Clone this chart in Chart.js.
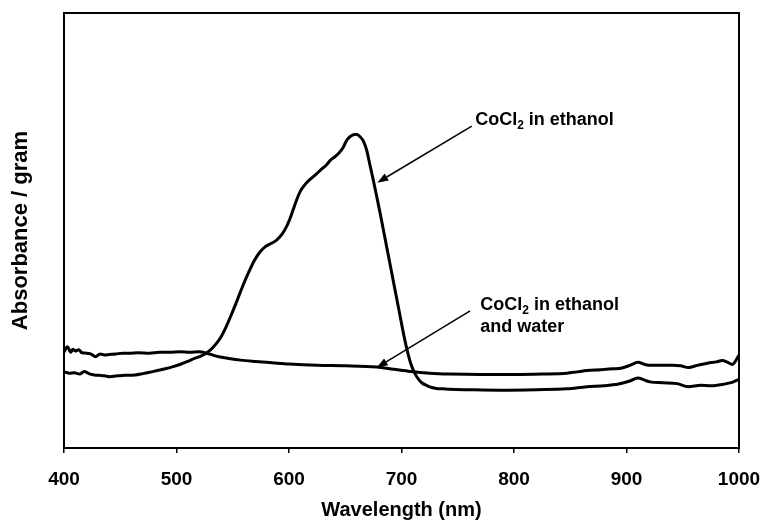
<!DOCTYPE html>
<html>
<head>
<meta charset="utf-8">
<script src="https://cdn.jsdelivr.net/npm/chart.js@4.4.1/dist/chart.umd.min.js"></script>
<style>
  html, body { margin: 0; padding: 0; background: #fff; }
  canvas { display: block; }
</style>
</head>
<body>
<canvas id="c" width="763" height="525"></canvas>
<script>
// Absorption spectra of cobalt chloride (arbitrary absorbance units per gram)
const ethanolNm = [400, 405, 409, 414, 418, 422, 427, 432, 436, 441, 447, 454, 463, 470, 476, 483, 490, 497, 503, 510,
  516, 522, 527, 533, 539, 544, 549, 554, 559, 564, 569, 574, 579, 584, 589, 594, 598, 601, 604, 607, 610,
  614, 619, 624, 628, 633, 637, 641, 645, 648, 651, 654, 657, 660, 663, 666, 669, 672, 675, 678,
  681, 684, 687, 690, 693, 696, 699, 702, 705, 708, 711, 714, 718, 723, 727, 731,
  737, 743, 760, 788, 820, 847, 865, 880, 893, 903, 910, 916, 921, 932, 945, 955, 966, 975, 985, 995, 1000];
const ethanolAbs = [17.5, 17.2, 17.3, 17.0, 17.6, 17.1, 16.8, 16.7, 16.6, 16.4, 16.6, 16.7, 16.8, 17.1, 17.4, 17.8, 18.2, 18.7, 19.2, 19.9,
  20.6, 21.2, 21.9, 23.3, 25.3, 27.8, 30.8, 34.0, 37.3, 40.3, 43.0, 45.0, 46.3, 47.0, 47.8, 49.2, 51.0, 52.8, 55.0, 57.2, 59.0,
  60.5, 61.8, 62.9, 63.9, 65.0, 66.2, 67.0, 68.0, 69.0, 70.6, 71.5, 72.0, 72.1, 71.6, 70.6, 68.5, 65.0, 61.5, 57.8,
  54.0, 50.0, 46.0, 42.0, 38.0, 34.0, 30.0, 26.0, 22.5, 19.6, 17.6, 16.2, 15.0, 14.3, 13.9, 13.7,
  13.6, 13.5, 13.4, 13.3, 13.4, 13.6, 14.1, 14.3, 14.7, 15.4, 16.1, 15.6, 15.2, 15.0, 14.8, 14.1, 14.4, 14.3, 14.6, 15.2, 15.8];

const mixNm = [400, 403, 406, 408, 410, 413, 416, 420, 424, 428, 432, 436, 440, 446, 452, 458, 466, 476, 485, 494,
  503, 512, 520, 527, 533, 539, 548, 557, 570, 585, 600, 625, 650, 678, 693, 708, 725, 743, 770, 800,
  825, 847, 856, 865, 877, 888, 896, 903, 910, 918, 930, 941, 948, 955, 963, 972, 980, 985, 990, 994, 997, 1000];
const mixAbs = [22.1, 23.3, 22.0, 22.7, 22.3, 22.6, 21.9, 21.8, 21.6, 21.0, 21.6, 21.4, 21.5, 21.6, 21.8, 21.8, 21.9, 21.8, 22.0, 22.0,
  22.1, 22.0, 22.1, 21.8, 21.3, 20.9, 20.5, 20.2, 19.9, 19.6, 19.3, 19.0, 18.9, 18.6, 18.1, 17.6, 17.2, 17.0, 16.9, 16.9,
  17.0, 17.2, 17.5, 17.8, 18.0, 18.2, 18.4, 19.0, 19.7, 19.1, 19.0, 19.0, 18.9, 18.5, 19.0, 19.5, 19.8, 20.1, 19.7, 19.2, 20.0, 21.4];

const xTicks = [400, 500, 600, 700, 800, 900, 1000];

// Callout labels: text lines, label anchor (nm, abs at baseline), arrow tail and tip (nm, abs)
const calloutLines = [
  [["CoCl", "2", " in ethanol"]],
  [["CoCl", "2", " in ethanol"], ["and water", "", ""]]
];
const calloutAnchor = [[765.5, 74.3], [770, 31.8]];
const arrowTail = [[762.5, 74.0], [761, 31.5]];
const arrowTip = [[678.5, 61.0], [678, 18.5]];

const FONT = '"Liberation Sans", Arial, Helvetica, sans-serif';

const toPts = (xs, ys) => xs.map((v, i) => ({ x: v, y: ys[i] }));

function drawArrow(ctx, x1, y1, x2, y2) {
  const ang = Math.atan2(y2 - y1, x2 - x1);
  const len = 11, half = 4;
  const bx = x2 - len * Math.cos(ang), by = y2 - len * Math.sin(ang);
  ctx.beginPath();
  ctx.moveTo(x1, y1);
  ctx.lineTo(bx, by);
  ctx.lineWidth = 1.5;
  ctx.stroke();
  ctx.beginPath();
  ctx.moveTo(x2, y2);
  ctx.lineTo(bx + half * Math.sin(ang), by - half * Math.cos(ang));
  ctx.lineTo(bx - half * Math.sin(ang), by + half * Math.cos(ang));
  ctx.closePath();
  ctx.fill();
}

function drawChem(ctx, parts, x, y) {
  const [main, sub, rest] = parts;
  ctx.font = 'bold 18px ' + FONT;
  ctx.fillText(main, x, y);
  let cx = x + ctx.measureText(main).width;
  if (sub) {
    ctx.font = 'bold 12px ' + FONT;
    ctx.fillText(sub, cx, y + 4);
    cx += ctx.measureText(sub).width;
  }
  if (rest) {
    ctx.font = 'bold 18px ' + FONT;
    ctx.fillText(rest, cx, y);
  }
}

const decorations = {
  id: 'decorations',
  afterDatasetsDraw(chart) {
    const { ctx, chartArea: a, scales: { x, y } } = chart;
    ctx.save();
    ctx.strokeStyle = '#000';
    ctx.fillStyle = '#000';
    ctx.lineWidth = 2;
    ctx.strokeRect(a.left, a.top, a.right - a.left, a.bottom - a.top);

    ctx.textBaseline = 'alphabetic';
    ctx.textAlign = 'left';
    calloutLines.forEach((lines, i) => {
      const lx = x.getPixelForValue(calloutAnchor[i][0]);
      const ly = y.getPixelForValue(calloutAnchor[i][1]);
      lines.forEach((parts, j) => drawChem(ctx, parts, lx, ly + j * 22));
      drawArrow(ctx,
        x.getPixelForValue(arrowTail[i][0]), y.getPixelForValue(arrowTail[i][1]),
        x.getPixelForValue(arrowTip[i][0]), y.getPixelForValue(arrowTip[i][1]));
    });
    ctx.restore();
  }
};

new Chart(document.getElementById('c'), {
  type: 'line',
  data: {
    datasets: [
      {
        label: 'CoCl2 in ethanol',
        data: toPts(ethanolNm, ethanolAbs),
        borderColor: '#000',
        borderWidth: 3,
        pointRadius: 0,
        cubicInterpolationMode: 'monotone',
        fill: false
      },
      {
        label: 'CoCl2 in ethanol and water',
        data: toPts(mixNm, mixAbs),
        borderColor: '#000',
        borderWidth: 3,
        pointRadius: 0,
        cubicInterpolationMode: 'monotone',
        fill: false
      }
    ]
  },
  options: {
    responsive: false,
    animation: false,
    layout: { padding: { left: 0, top: 13, right: 24, bottom: 0 } },
    plugins: { legend: { display: false }, tooltip: { enabled: false } },
    scales: {
      x: {
        type: 'linear',
        min: 400,
        max: 1000,
        afterBuildTicks: (s) => { s.ticks = xTicks.map(v => ({ value: v })); },
        afterFit: (s) => { s.height = 77; s.paddingLeft = 0; s.paddingRight = 0; },
        grid: { display: true, drawOnChartArea: false, drawTicks: true, tickLength: 5, color: '#000', lineWidth: 1.5 },
        border: { display: true, color: '#000', width: 2 },
        ticks: {
          color: '#000',
          padding: 15,
          maxRotation: 0,
          autoSkip: false,
          callback: (v) => String(v),
          font: { family: FONT, size: 19, weight: 'bold' }
        },
        title: {
          display: true,
          text: 'Wavelength (nm)',
          color: '#000',
          padding: { top: 0, bottom: 3 },
          font: { family: FONT, size: 20, weight: 'bold' }
        }
      },
      y: {
        type: 'linear',
        min: 0,
        max: 100,
        afterFit: (s) => { s.width = 64; },
        grid: { display: false },
        border: { display: true, color: '#000', width: 2 },
        ticks: { display: false },
        title: {
          display: true,
          text: 'Absorbance / gram',
          color: '#000',
          padding: { top: 8, bottom: 0 },
          font: { family: FONT, size: 22, weight: 'bold' }
        }
      }
    }
  },
  plugins: [decorations]
});
</script>
</body>
</html>
